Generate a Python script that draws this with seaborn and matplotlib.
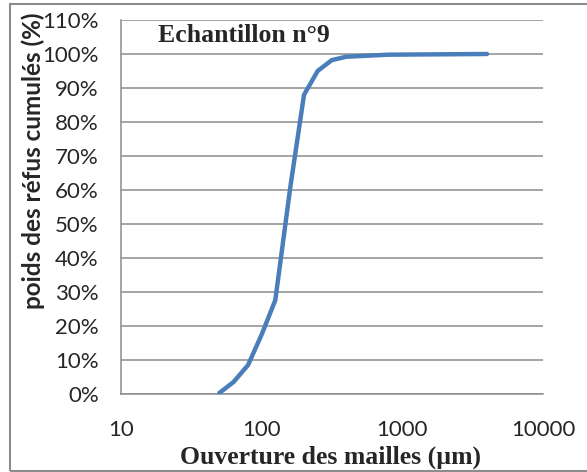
import matplotlib
matplotlib.use("Agg")
import matplotlib.pyplot as plt
import matplotlib.ticker as mticker
from matplotlib.patches import Rectangle
import seaborn as sns
import pandas as pd

# Data
ouverture_um = [50, 63, 80, 100, 125, 160, 200, 250, 315, 400, 800, 4000]
refus_cumules = [0.3, 3.5, 8.5, 17.5, 27.6, 61.0, 88.0, 95.0, 98.2, 99.2, 99.8, 100.0]
title_text = "Echantillon n°9"
xlabel_text = "Ouverture des mailles (µm)"
ylabel_text = "poids des réfus cumulés (%)"
x_major = [10, 100, 1000, 10000]
y_major = list(range(0, 111, 10))

df = pd.DataFrame({"x": ouverture_um, "y": refus_cumules})

sns.set_style("white")
plt.rcParams["font.family"] = ["Lato", "DejaVu Sans"]

W, H = 587, 472
fig = plt.figure(figsize=(W / 100, H / 100), dpi=100)
ax = fig.add_axes([121 / W, 1 - 394 / H, (543 - 121) / W, (394 - 20) / H])

sns.lineplot(data=df, x="x", y="y", ax=ax, color="#4A7EBB", linewidth=3.2,
             solid_capstyle="round", solid_joinstyle="round", sort=False, zorder=3)

ax.set_xscale("log")
ax.set_xlim(10, 10000)
ax.set_ylim(0, 110)

ax.set_xticks(x_major)
ax.xaxis.set_major_formatter(mticker.FuncFormatter(lambda v, p: f"{int(v)}"))
ax.xaxis.set_minor_locator(mticker.LogLocator(base=10, subs=range(2, 10), numticks=20))
ax.xaxis.set_minor_formatter(mticker.NullFormatter())

ax.set_yticks(y_major)
ax.yaxis.set_major_formatter(mticker.FuncFormatter(lambda v, p: f"{int(v)}%"))
ax.yaxis.set_minor_locator(mticker.MultipleLocator(2))

ax.grid(axis="y", which="major", color="#8C8C8C", linewidth=1.1, zorder=0)
ax.grid(axis="x", visible=False)
ax.set_axisbelow(True)

for s in ["top", "right"]:
    ax.spines[s].set_visible(False)
for s in ["left", "bottom"]:
    ax.spines[s].set_color("#8C8C8C")
    ax.spines[s].set_linewidth(1.1)

ax.tick_params(axis="both", which="major", direction="inout", length=11, width=1.0,
               color="#8C8C8C", labelsize=16, labelcolor="#262626")
ax.tick_params(axis="both", which="minor", direction="inout", length=8.5, width=0.9,
               color="#8C8C8C")
ax.tick_params(axis="y", which="major", pad=10.5)
ax.tick_params(axis="x", which="major", pad=13)

ax.set_xlabel("")
ax.set_ylabel("")

fig.text(244 / W, 1 - 36 / H, title_text, ha="center", va="center",
         fontsize=18.5, fontweight="bold", family=["Liberation Serif", "DejaVu Serif"])
fig.text(331 / W, 1 - 457 / H, xlabel_text, ha="center", va="center",
         fontsize=18.5, fontweight="bold", family=["Liberation Serif", "DejaVu Serif"])
fig.text(33 / W, 1 - 161 / H, ylabel_text, ha="center", va="center", rotation=90,
         fontsize=17.5, fontweight="bold", family=["Lato", "DejaVu Sans"])

fig.patches.append(Rectangle((10 / W, 1 - 471 / H), 1.2, (471 - 4) / H,
                             transform=fig.transFigure, fill=False,
                             edgecolor="#8C8C8C", linewidth=1.5))

fig.savefig("out.png", dpi=100)
